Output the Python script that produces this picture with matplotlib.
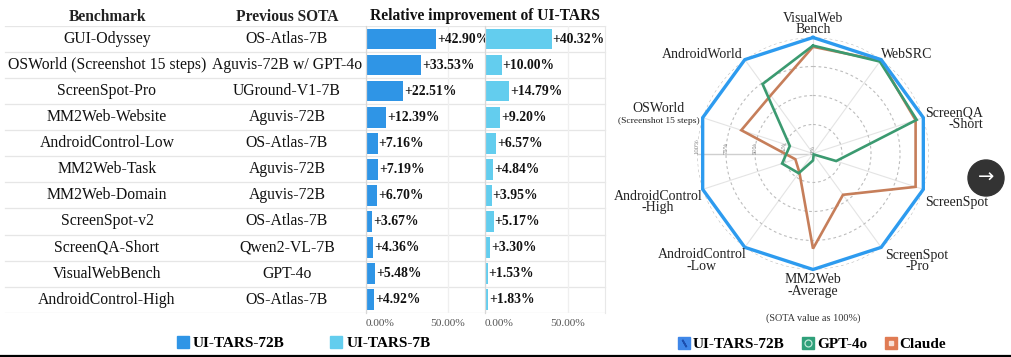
import numpy as np
import matplotlib
matplotlib.use("Agg")
import matplotlib.pyplot as plt
from matplotlib.patches import Patch, Circle
from matplotlib.lines import Line2D

plt.rcParams["font.family"] = ["Liberation Serif", "DejaVu Sans"]

# ---- table / bar data ----
benchmarks = ["GUI-Odyssey", "OSWorld (Screenshot 15 steps)", "ScreenSpot-Pro", "MM2Web-Website",
              "AndroidControl-Low", "MM2Web-Task", "MM2Web-Domain", "ScreenSpot-v2",
              "ScreenQA-Short", "VisualWebBench", "AndroidControl-High"]
prev_sota = ["OS-Atlas-7B", "Aguvis-72B w/ GPT-4o", "UGround-V1-7B", "Aguvis-72B", "OS-Atlas-7B",
             "Aguvis-72B", "Aguvis-72B", "OS-Atlas-7B", "Qwen2-VL-7B", "GPT-4o", "OS-Atlas-7B"]
imp_72b = [42.90, 33.53, 22.51, 12.39, 7.16, 7.19, 6.70, 3.67, 4.36, 5.48, 4.92]
imp_7b = [40.32, 10.00, 14.79, 9.20, 6.57, 4.84, 3.95, 5.17, 3.30, 1.53, 1.83]
bar_ticks = [0, 50]
bar_tick_labels = ["0.00%", "50.00%"]

# ---- radar data (SOTA value as 100%) ----
radar_cats = ["VisualWeb\nBench", "WebSRC", "ScreenQA\n-Short", "ScreenSpot", "ScreenSpot\n-Pro",
              "MM2Web\n-Average", "AndroidControl\n-Low", "AndroidControl\n-High", "OSWorld", "AndroidWorld"]
radar_tars = [100, 100, 100, 100, 100, 100, 100, 100, 100, 100]
radar_gpt4o = [93, 98, 94, 21, 1, 6, 21, 28, 21, 74]
radar_claude = [92, 99, 93, 93, 44, 82, 20, 16, 65, 62]
radar_ticks = [0, 25, 50, 75, 100]

C72 = "#2f95e6"
C7 = "#63cdee"
CB = "#2d9bef"
CG = "#3b9a70"
CO = "#c67e5a"

W, H = 1011, 357
fig = plt.figure(figsize=(W / 100, H / 100), dpi=100)

bot = 44.3 / H
hgt = 286.7 / H
n = len(benchmarks)
rows = np.arange(n)

# table background axes
ax_tab = fig.add_axes([0, bot, 610 / W, hgt])
ax_tab.set_xlim(0, 610)
ax_tab.set_ylim(n - 0.5, -0.5)
ax_tab.axis("off")
for y in np.arange(-0.5, n, 1.0):
    ax_tab.plot([5, 605], [y, y], color="#e6e6e6", lw=0.9, zorder=0)
for i in rows:
    ax_tab.text(107, i, benchmarks[i], ha="center", va="center", fontsize=11.3, color="#111")
    ax_tab.text(287, i, prev_sota[i], ha="center", va="center", fontsize=11.3, color="#111")
ax_tab.text(107, -0.84, "Benchmark", ha="center", va="center", fontsize=11.2, fontweight="bold", color="#222")
ax_tab.text(287, -0.84, "Previous SOTA", ha="center", va="center", fontsize=11.2, fontweight="bold", color="#222")
ax_tab.text(485, -0.87, "Relative improvement of UI-TARS", ha="center", va="center",
            fontsize=11.2, fontweight="bold", color="#111")

# bar panels
for left, width, vals, col in [(366, 119, imp_72b, C72), (485, 120, imp_7b, C7)]:
    ax = fig.add_axes([left / W, bot, width / W, hgt])
    ax.patch.set_alpha(0)
    ax.barh(rows, vals, height=0.79, color=col, zorder=2)
    for i, v in zip(rows, vals):
        ax.text(v + 0.6, i, f"+{v:.2f}%", ha="left", va="center", fontsize=9.8,
                fontweight="bold", color="#111", zorder=3)
    ax.set_xlim(0, 72.5)
    ax.set_ylim(n - 0.5, -0.5)
    ax.set_yticks([])
    ax.set_xticks(bar_ticks)
    ax.set_xticklabels(bar_tick_labels)
    ax.get_xticklabels()[0].set_ha("left")
    ax.tick_params(axis="x", length=0, pad=4.5, labelsize=8.2, labelcolor="#555")
    ax.grid(axis="x", color="#efefef", lw=0.9, zorder=0)
    for s in ["top", "bottom", "right"]:
        ax.spines[s].set_visible(False)
    ax.spines["left"].set_color("#d8d8d8")
    ax.spines["left"].set_linewidth(0.9)
    last_ax = ax
last_ax.spines["right"].set_visible(True)
last_ax.spines["right"].set_color("#e8e8e8")

# left legend
fig.legend(handles=[Patch(color=C72), Patch(color=C7)], labels=["UI-TARS-72B", "UI-TARS-7B"],
           loc="center", bbox_to_anchor=(303.5 / W, 1 - 343 / H), ncol=2, frameon=False,
           prop={"weight": "bold", "size": 11}, handlelength=0.8, handleheight=0.8,
           handletextpad=0.25, columnspacing=3.0, borderpad=0)

# radar
R = 116
cx, cy = 813, 153.5
axr = fig.add_axes([(cx - R) / W, (H - cy - R) / H, 2 * R / W, 2 * R / H], projection="polar")
axr.set_theta_offset(np.pi / 2)
axr.set_theta_direction(-1)
axr.set_ylim(0, 100)
k = len(radar_cats)
ang = np.arange(k) * 2 * np.pi / k
axr.set_xticks(ang)
axr.set_xticklabels([])
axr.set_yticks([25, 50, 75, 100])
axr.set_yticklabels([])
axr.xaxis.grid(True, color="#e4e4e4", lw=0.8)
axr.yaxis.grid(True, color="#bdbdbd", lw=0.8, ls=(0, (2.5, 2.5)))
axr.spines["polar"].set_visible(False)
axr.plot([3 * np.pi / 2, 3 * np.pi / 2], [0, 100], color="#cfcfcf", lw=1.0, zorder=1)
for t in radar_ticks:
    axr.text(3 * np.pi / 2, t, f"{t}%", rotation=90, ha="center", va="bottom",
             fontsize=4.8, color="#888")

closed = lambda v: (np.append(ang, ang[0]), np.append(v, v[0]))
for vals, col, lw in [(radar_claude, CO, 1.9), (radar_gpt4o, CG, 1.9), (radar_tars, CB, 2.4)]:
    th, rr = closed(vals)
    axr.plot(th, rr, color=col, lw=lw, clip_on=False, zorder=3, solid_joinstyle="miter")

# category labels: offsets in pixels from each 100% vertex
label_offsets = [(0, 13.5, "center", "center"), (0, 4.7, "left", "center"), (2, -1.3, "left", "center"),
                 (2, -12.7, "left", "center"), (36, -13.7, "center", "center"), (0, -16, "center", "center"),
                 (-43, -13.2, "center", "center"), (-44.7, -12.7, "center", "center"),
                 (-43.7, 8.7, "center", "center"), (-43, 5.4, "center", "center")]
for a, lab, (dx, dy, ha, va) in zip(ang, radar_cats, label_offsets):
    axr.annotate(lab, xy=(a, 100), xytext=(dx, dy), textcoords="offset pixels", ha=ha, va=va,
                 fontsize=10, color="#222", linespacing=0.85, annotation_clip=False,
                 multialignment="right" if lab.startswith("ScreenQA") else "center")
axr.annotate("(Screenshot 15 steps)", xy=(ang[8], 100), xytext=(-44, -3.3), textcoords="offset pixels",
             ha="center", va="center", fontsize=6.8, color="#222", annotation_clip=False)
fig.text(813 / W, 1 - 318.5 / H, "(SOTA value as 100%)", ha="center", va="center", fontsize=7.4, color="#333")

# radar legend
h_tars = (Patch(color="#3f87e8"), Line2D([], [], ls="", marker=(2, 2, 30), ms=6, mec="#1c4fae", mew=1.2))
h_gpt = (Patch(color="#2fa07a"), Line2D([], [], ls="", marker="o", ms=5, mfc="none", mec="#bfe8d8", mew=0.9))
h_cl = (Patch(color="#e07b53"), Line2D([], [], ls="", marker="s", ms=2.5, color="#f8e0d6"))
fig.legend(handles=[h_tars, h_gpt, h_cl], labels=["UI-TARS-72B", "GPT-4o", "Claude"],
           loc="center", bbox_to_anchor=(812 / W, 1 - 344 / H), ncol=3, frameon=False,
           prop={"weight": "bold", "size": 11}, handlelength=0.8, handleheight=0.8,
           handletextpad=0.15, columnspacing=1.2, borderpad=0)

# slide arrow button
fig.add_artist(Circle((986 / 100, (H - 178) / 100), 0.18, transform=fig.dpi_scale_trans,
                      color="#333333", zorder=5))
fig.text(986 / W, 1 - 177 / H, "→", ha="center", va="center", fontsize=14, color="white",
         family="DejaVu Sans", zorder=6)

# bottom rule
fig.add_artist(Line2D([0, 1], [1 - 355.5 / H, 1 - 355.5 / H], transform=fig.transFigure, color="black", lw=1.6))

fig.savefig("out.png", dpi=100, facecolor="white")
